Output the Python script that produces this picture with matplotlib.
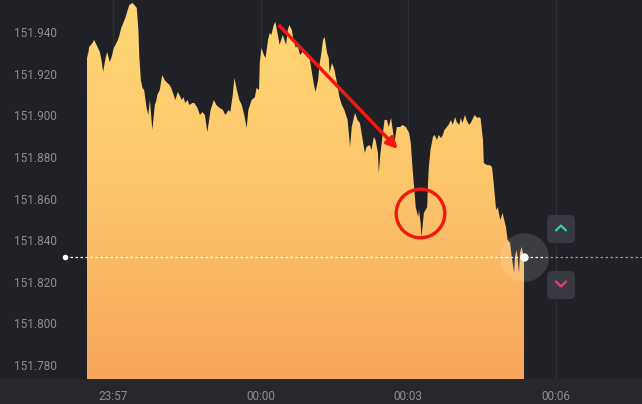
import numpy as np
import matplotlib.pyplot as plt
from matplotlib.colors import LinearSegmentedColormap
from matplotlib.patches import FancyBboxPatch
from matplotlib.lines import Line2D
from matplotlib.transforms import IdentityTransform, blended_transform_factory

plt.rcParams['font.family'] = ['Roboto', 'DejaVu Sans']

# seconds relative to 00:00
times = [-212, -211, -209, -205, -203, -200, -196, -194, -192, -189, -187, -184, -182, -179,
         -177, -174, -172, -170, -167, -165, -162, -160, -156, -154, -151, -149, -148, -146,
         -144, -142, -139, -137, -135, -133, -132, -129, -127, -126, -123, -121, -120, -117,
         -115, -111, -109, -106, -104, -101, -99, -96, -94, -92, -89, -87, -83, -81, -77, -74,
         -71, -68, -65, -61, -57, -54, -50, -46, -43, -39, -37, -34, -32, -29, -26, -23, -20,
         -17, -15, -11, -7, -5, -2, -1, 1, 4, 6, 9, 11, 13, 16, 18, 21, 23, 27, 31, 33, 35, 38,
         40, 43, 45, 48, 51, 54, 57, 60, 62, 65, 67, 70, 72, 74, 76, 78, 81, 83, 84, 87, 90, 94,
         96, 99, 102, 106, 109, 111, 115, 118, 121, 123, 127, 129, 133, 135, 138, 140, 143, 144,
         146, 149, 151, 154, 156, 159, 161, 163, 166, 170, 173, 177, 181, 183, 185, 187, 189,
         192, 193, 195, 196, 199, 201, 203, 204, 205, 207, 210, 212, 215, 217, 220, 222, 224,
         227, 229, 232, 234, 237, 239, 242, 244, 246, 249, 251, 254, 256, 259, 261, 264, 266,
         268, 271, 272, 276, 279, 282, 284, 287, 289, 292, 295, 296, 299, 301, 304, 306, 309,
         310, 312, 315, 316, 318, 321]
prices = [151.9315, 151.9276, 151.9329, 151.9348, 151.9363, 151.9339, 151.9305, 151.9266,
          151.9209, 151.9276, 151.9305, 151.9257, 151.9276, 151.9324, 151.9339, 151.9363,
          151.9387, 151.9420, 151.9449, 151.9468, 151.9507, 151.9531, 151.9541, 151.9531,
          151.9517, 151.9411, 151.9290, 151.9170, 151.9132, 151.9122, 151.9036, 151.9002,
          151.9074, 151.8978, 151.8930, 151.9050, 151.9074, 151.9098, 151.9122, 151.9170,
          151.9194, 151.9170, 151.9161, 151.9146, 151.9132, 151.9098, 151.9074, 151.9113,
          151.9098, 151.9074, 151.9088, 151.9060, 151.9074, 151.9050, 151.9060, 151.9060,
          151.9036, 151.9002, 151.9016, 151.9002, 151.8920, 151.9026, 151.9074, 151.9050,
          151.9036, 151.9026, 151.9002, 151.9026, 151.9016, 151.9098, 151.9180, 151.9122,
          151.9074, 151.9050, 151.9002, 151.8939, 151.9026, 151.9074, 151.9088, 151.9132,
          151.9122, 151.9257, 151.9324, 151.9290, 151.9276, 151.9363, 151.9396, 151.9387,
          151.9435, 151.9449, 151.9387, 151.9339, 151.9387, 151.9339, 151.9411, 151.9435,
          151.9411, 151.9363, 151.9324, 151.9339, 151.9290, 151.9305, 151.9305, 151.9300,
          151.9266, 151.9218, 151.9146, 151.9113, 151.9170, 151.9252, 151.9300, 151.9363,
          151.9377, 151.9300, 151.9276, 151.9204, 151.9252, 151.9218, 151.9137, 151.9088,
          151.9050, 151.9026, 151.8978, 151.8848, 151.8944, 151.9012, 151.8978, 151.8963,
          151.8915, 151.8819, 151.8848, 151.8858, 151.8834, 151.8896, 151.8882, 151.8819,
          151.8723, 151.8819, 151.8915, 151.8978, 151.8978, 151.8944, 151.8987, 151.8930,
          151.8867, 151.8944, 151.8944, 151.8954, 151.8944, 151.8915, 151.8867, 151.8752,
          151.8656, 151.8559, 151.8511, 151.8545, 151.8482, 151.8415, 151.8531, 151.8545,
          151.8559, 151.8675, 151.8752, 151.8834, 151.8896, 151.8906, 151.8882, 151.8906,
          151.8891, 151.8906, 151.8930, 151.8944, 151.8954, 151.8978, 151.8954, 151.8992,
          151.8968, 151.8954, 151.8987, 151.8963, 151.9002, 151.8978, 151.8954, 151.8963,
          151.8987, 151.9002, 151.8987, 151.8992, 151.8987, 151.8882, 151.8771, 151.8761,
          151.8761, 151.8752, 151.8675, 151.8545, 151.8559, 151.8497, 151.8531, 151.8511,
          151.8463, 151.8401, 151.8386, 151.8319, 151.8242, 151.8319, 151.8353, 151.8242,
          151.8338, 151.8367, 151.8319]

current_price = 151.832
y_ticks = [151.780, 151.800, 151.820, 151.840, 151.860, 151.880, 151.900, 151.920, 151.940]
x_ticks = [-180, 0, 180, 360]
x_labels = ['23:57', '00:00', '00:03', '00:06']

bg = '#202126'
band = '#27282d'
label_col = '#8d8e93'
y_min, y_max = 151.7732, 151.9555

fig = plt.figure(figsize=(6.42, 4.04), dpi=100, facecolor=band)
ax = fig.add_axes([0, 25 / 404, 1, 379 / 404])
ax.set_facecolor(bg)
for s in ax.spines.values():
    s.set_visible(False)

# gradient area under the price
poly = ax.fill_between(times, prices, y_min, color='none', lw=0)
cmap = LinearSegmentedColormap.from_list('area', ['#f8a65c', '#fcc56a', '#ffd874'])
grad = np.linspace(0, 1, 256).reshape(-1, 1)
img = ax.imshow(grad, cmap=cmap, origin='lower', aspect='auto',
                extent=[times[0], times[-1], y_min, y_max], zorder=2)
img.set_clip_path(poly.get_paths()[0], transform=ax.transData)

ax.set_xlim(-317.7, 464.8)
ax.set_ylim(y_min, y_max)
ax.set_xticks(x_ticks, x_labels)
ax.set_yticks(y_ticks, [f'{v:.3f}' for v in y_ticks])
ax.tick_params(axis='x', length=0, pad=8, labelsize=8.5, labelcolor=label_col)
ax.tick_params(axis='y', length=0, pad=-41, labelsize=8.5, labelcolor=label_col)
ax.grid(axis='x', color='#2e2f35', lw=1)
ax.grid(axis='y', visible=False)
ax.set_axisbelow(True)

# current price line
tr = blended_transform_factory(ax.transAxes, ax.transData)
ax.plot([65 / 642, 545 / 642], [current_price, current_price], transform=tr,
        color='white', lw=0.9, ls=(0, (2, 2)), zorder=4)
ax.plot([545 / 642, 1], [current_price, current_price], transform=tr,
        color='#9a9ba0', lw=0.9, ls=(0, (2, 2)), zorder=4)
ax.plot([65 / 642], [current_price], transform=tr, marker='o', ms=3, color='white', zorder=5)
ax.plot(times[-1], current_price, marker='o', ms=35, color='white', alpha=0.13, mew=0, zorder=5)
ax.plot(times[-1], current_price, marker='o', ms=5, color='white', zorder=6)

# red annotations
ax.annotate('', xy=(169.5, 151.8829), xytext=(20.7, 151.9440),
            arrowprops=dict(arrowstyle='-|>', color='#f01810', lw=2.5, mutation_scale=16),
            zorder=7)
ax.plot(193.9, 151.853, marker='o', ms=35, mfc='none', mec='#f01810', mew=2.4, zorder=7)

# up / down buttons
idt = IdentityTransform()
for yb in (161, 105):
    fig.patches.append(FancyBboxPatch((547, yb), 28, 28, boxstyle='round,pad=0,rounding_size=5',
                                      transform=idt, facecolor='#393a41', edgecolor='none'))
fig.add_artist(Line2D([556, 561, 566], [173.5, 178.5, 173.5], transform=idt,
                      color='#2fd3a0', lw=1.6, solid_capstyle='round'))
fig.add_artist(Line2D([556, 561, 566], [122.5, 117.5, 122.5], transform=idt,
                      color='#ee3b6a', lw=1.6, solid_capstyle='round'))

fig.savefig('out.png', dpi=100, facecolor=band)
